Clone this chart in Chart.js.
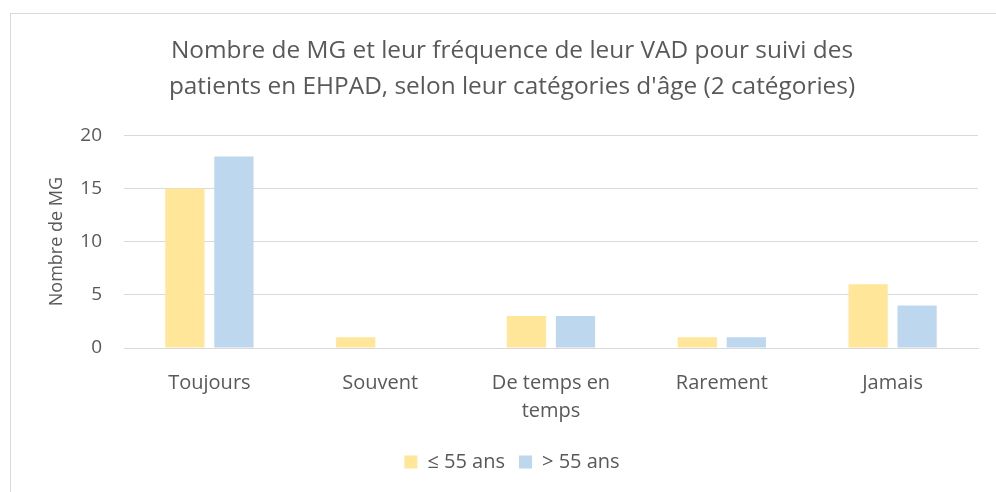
<!DOCTYPE html>
<html>
<head>
<meta charset="utf-8">
<script src="https://cdn.jsdelivr.net/npm/chart.js@4"></script>
<style>
  html, body { margin: 0; padding: 0; background: #fff; }
  #wrap { position: relative; width: 996px; height: 492px; overflow: hidden; }
  #frame { position: absolute; left: 10px; top: 13px; width: 1000px; height: 500px; border: 1px solid #d9d9d9; }
  canvas { position: absolute; left: 0; top: 0; }
</style>
</head>
<body>
<div id="wrap">
  <div id="frame"></div>
  <canvas id="myChart" width="996" height="492"></canvas>
</div>
<script>
// data
const categories = ['Toujours', 'Souvent', ['De temps en', 'temps'], 'Rarement', 'Jamais'];
const youngValues = [15, 1, 3, 1, 6];
const olderValues = [18, 0, 3, 1, 4];
const seriesNames = ['≤ 55 ans', '> 55 ans'];
const yTicks = [0, 5, 10, 15, 20];

const textColor = '#595959';
const gridColor = '#d9d9d9';
const fontFamily = '"Open Sans", "Noto Sans", sans-serif';

var ctx = document.getElementById('myChart').getContext('2d');
var myChart = new Chart(ctx, {
    type: 'bar',
    data: {
        labels: categories,
        datasets: [{
            label: seriesNames[0],
            data: youngValues,
            backgroundColor: '#FFE699',
            barPercentage: 0.8,
            categoryPercentage: 0.574
        }, {
            label: seriesNames[1],
            data: olderValues,
            backgroundColor: '#BDD7EE',
            barPercentage: 0.8,
            categoryPercentage: 0.574
        }]
    },
    options: {
        responsive: false,
        animation: false,
        layout: {
            padding: { left: 46, right: 18, top: 33, bottom: 10 }
        },
        plugins: {
            title: {
                display: true,
                text: ['Nombre de MG et leur fréquence de leur VAD pour suivi des',
                       'patients en EHPAD, selon leur catégories d\'âge (2 catégories)'],
                color: textColor,
                font: { family: fontFamily, size: 24.4, weight: 'normal', lineHeight: 1.48 },
                padding: { top: 0, bottom: 30 }
            },
            legend: {
                position: 'bottom',
                labels: {
                    color: textColor,
                    font: { family: fontFamily, size: 20 },
                    boxWidth: 13,
                    boxHeight: 13,
                    padding: 14
                }
            },
            tooltip: { enabled: false }
        },
        scales: {
            x: {
                grid: { display: false },
                border: { color: gridColor, width: 1 },
                ticks: {
                    color: textColor,
                    font: { family: fontFamily, size: 20, lineHeight: 1.4 },
                    maxRotation: 0,
                    padding: 13
                }
            },
            y: {
                min: 0,
                max: 20,
                afterBuildTicks: function (scale) {
                    scale.ticks = yTicks.map(v => ({ value: v }));
                },
                afterFit: function (scale) {
                    scale.width = 78;
                },
                grid: { color: gridColor, lineWidth: 1, drawTicks: false },
                border: { display: false },
                ticks: {
                    color: textColor,
                    font: { family: fontFamily, size: 19 },
                    padding: 22
                },
                title: {
                    display: true,
                    text: 'Nombre de MG',
                    color: textColor,
                    font: { family: fontFamily, size: 18 },
                    padding: 0
                }
            }
        }
    }
});
</script>
</body>
</html>
